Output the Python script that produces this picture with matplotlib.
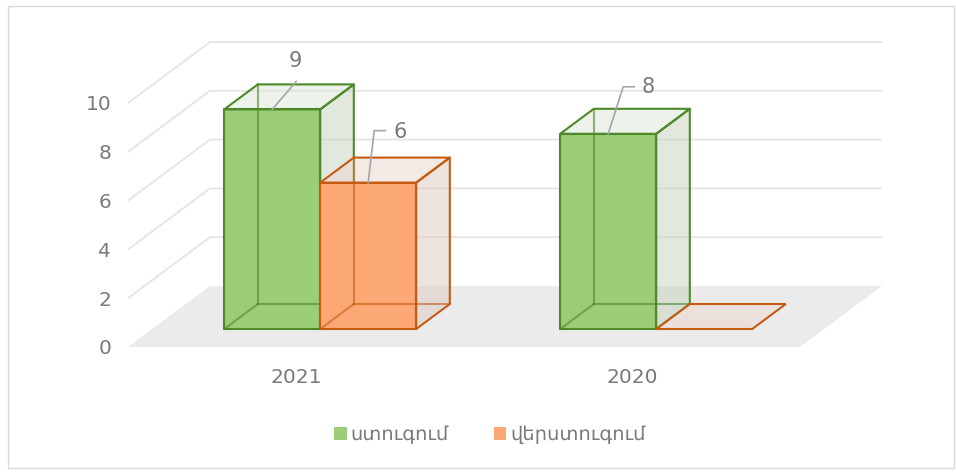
import matplotlib.pyplot as plt
from matplotlib.patches import Polygon, Patch, Rectangle

categories = ["2021", "2020"]
series_names = ["ստուգում", "վերստուգում"]
checks = [9, 8]
rechecks = [6, 0]
yticks = [0, 2, 4, 6, 8, 10]

# look of each series: front, top, side colours and edge colour
styles = [
    dict(front="#9ccd79", top="#dde6d8", side="#c9d3c1", edge="#4b8a26"),
    dict(front="#fba874", top="#ebd6cc", side="#dccac1", edge="#c55a11"),
]

# oblique "3d" geometry (pixels of the reference)
W, H, DPI = 956, 472, 100
PX_CAT = 336.0      # px per category on the front edge
PX_VAL = 24.4       # px per value unit
X0_PX, Y0_PX = 128, 347   # front-left floor corner
DEPTH_PX = (82, 61)       # floor depth offset (right, up)
DX = DEPTH_PX[0] / PX_CAT
DY = DEPTH_PX[1] / PX_VAL
BAR_W = 96 / PX_CAT
D0, D1 = 0.295, 0.705


def P(x, v, d):
    return (x + DX * d, v + DY * d)


def px(dx, dy):
    # pixel offset -> data offset
    return dx / PX_CAT, -dy / PX_VAL


fig = plt.figure(figsize=(W / DPI, H / DPI), dpi=DPI)
right_px, top_px = 900, 20
ax = fig.add_axes([X0_PX / W, (H - Y0_PX) / H, (right_px - X0_PX) / W, (Y0_PX - top_px) / H])
ax.set_xlim(0, (right_px - X0_PX) / PX_CAT)
ax.set_ylim(0, (Y0_PX - top_px) / PX_VAL)
for s in ax.spines.values():
    s.set_visible(False)

n = len(categories)
grid_c = "#e4e4e4"

# floor
ax.add_patch(Polygon([P(0, 0, 0), P(n, 0, 0), P(n, 0, 1), P(0, 0, 1)],
                     closed=True, facecolor="#ebebeb", edgecolor="none", zorder=1))
# side and back wall gridlines
for t in yticks[1:]:
    xs, ys = zip(P(0, t, 0), P(0, t, 1), P(n, t, 1))
    ax.plot(xs, ys, color=grid_c, lw=1.3, zorder=1, solid_capstyle="butt")


def draw_bar(x0, v, st, z):
    x1 = x0 + BAR_W
    lw = 1.5
    if v == 0:
        flat = [P(x0, 0, D0), P(x1, 0, D0), P(x1, 0, D1), P(x0, 0, D1)]
        ax.add_patch(Polygon(flat, closed=True, facecolor=st["top"], alpha=0.5, edgecolor="none", zorder=z))
        ax.add_patch(Polygon(flat, closed=True, facecolor="none", edgecolor=st["edge"], lw=lw, zorder=z + 0.5))
        return
    side = [P(x1, 0, D0), P(x1, 0, D1), P(x1, v, D1), P(x1, v, D0)]
    top = [P(x0, v, D0), P(x1, v, D0), P(x1, v, D1), P(x0, v, D1)]
    front = [P(x0, 0, D0), P(x1, 0, D0), P(x1, v, D0), P(x0, v, D0)]
    ax.add_patch(Polygon(side, closed=True, facecolor=st["side"], alpha=0.5, edgecolor="none", zorder=z))
    ax.add_patch(Polygon(top, closed=True, facecolor=st["top"], alpha=0.5, edgecolor="none", zorder=z))
    ax.add_patch(Polygon(front, closed=True, facecolor=st["front"], edgecolor="none", zorder=z + 0.1))
    hidden = [
        (P(x0, 0, D1), P(x0, v, D1)),
        (P(x0, 0, D1), P(x1, 0, D1)),
        (P(x0, 0, D0), P(x0, 0, D1)),
    ]
    for a, b in hidden:
        ax.plot([a[0], b[0]], [a[1], b[1]], color=st["edge"], lw=lw, alpha=0.6, zorder=z + 0.2)
    for poly in (side, top, front):
        ax.add_patch(Polygon(poly, closed=True, facecolor="none", edgecolor=st["edge"],
                             lw=lw, joinstyle="round", zorder=z + 0.3))


# (line points as px offsets from bar anchor, text px offset)
leaders = {
    (0, 0): ([(0, 0), (24, -28)], (23, -48)),
    (0, 1): ([(0, 0), (6, -52), (17, -52)], (32, -51)),
    (1, 0): ([(0, 0), (15, -47), (26, -47)], (40, -47)),
}

series = [checks, rechecks]
z = 2
for i in range(n):
    for j, vals in enumerate(series):
        x0 = i + 0.5 - BAR_W + j * BAR_W
        v = vals[i]
        draw_bar(x0, v, styles[j], z)
        z += 1
        if (i, j) in leaders:
            pts, toff = leaders[(i, j)]
            ax_, ay_ = P(x0 + BAR_W / 2, v, D0)
            xs = [ax_ + px(*p)[0] for p in pts]
            ys = [ay_ + px(*p)[1] for p in pts]
            ax.plot(xs, ys, color="#a6a6a6", lw=1.2, zorder=20)
            tx, ty = px(*toff)
            ax.text(ax_ + tx, ay_ + ty, str(v), ha="center", va="center",
                    fontsize=15, color="#7a7a7a", zorder=21)

ax.set_yticks(yticks)
ax.set_yticklabels([str(t) for t in yticks])
ax.set_xticks([i + 0.5 for i in range(n)])
ax.set_xticklabels(categories)
ax.tick_params(axis="y", length=0, pad=12, labelsize=14.5, labelcolor="#7a7a7a")
ax.tick_params(axis="x", length=0, pad=15, labelsize=14.5, labelcolor="#7a7a7a")

handles = [Patch(facecolor=st["front"], edgecolor="none") for st in styles]
fig.legend(handles, series_names, loc="center", bbox_to_anchor=(490 / W, 1 - 435 / H),
           ncol=2, frameon=False, handlelength=0.65, handleheight=0.65,
           handletextpad=0.2, columnspacing=2.3, fontsize=14, labelcolor="#7a7a7a")

fig.patches.append(Rectangle((8 / W, 4 / H), 946 / W, 462 / H, transform=fig.transFigure,
                             fill=False, edgecolor="#d9d9d9", lw=1))

fig.savefig("out.png", dpi=DPI)
